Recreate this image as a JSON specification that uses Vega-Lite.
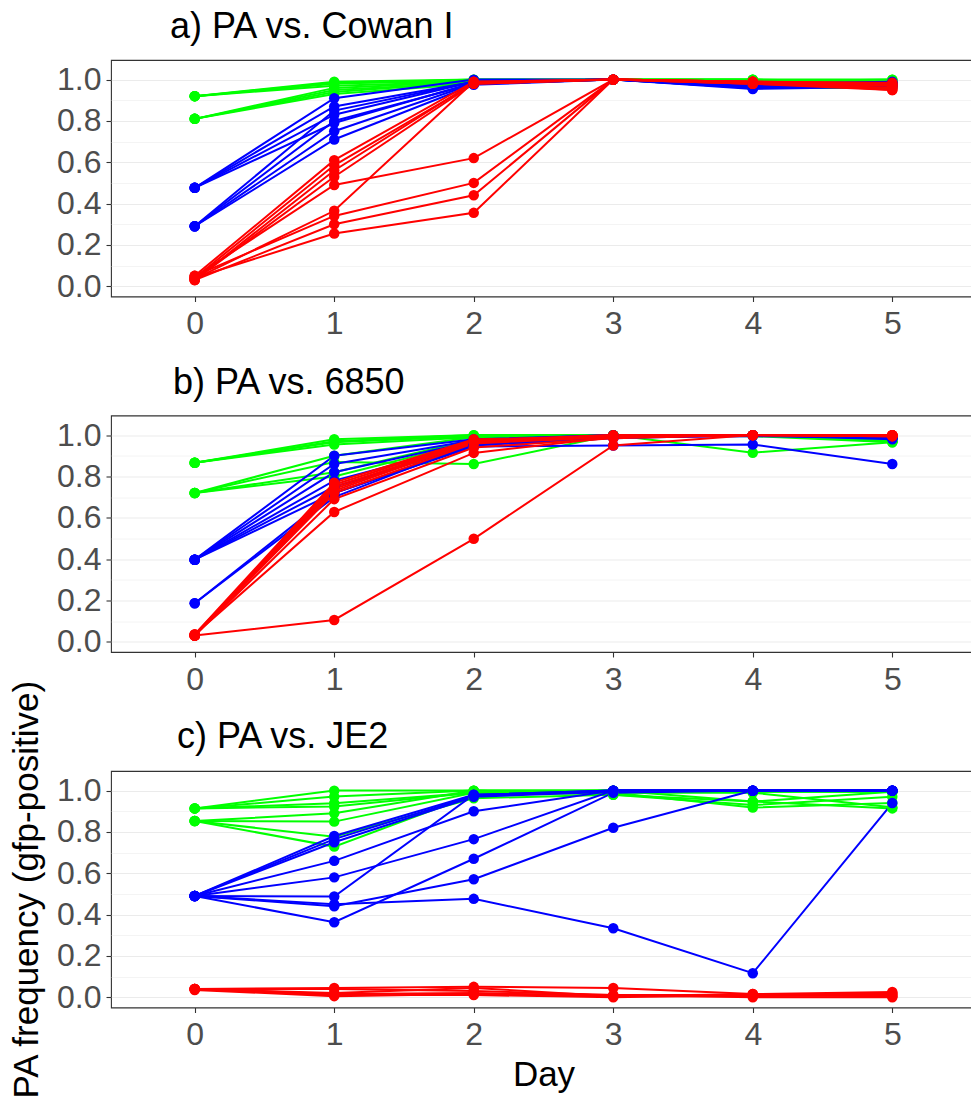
{
"$schema": "https://vega.github.io/schema/vega-lite/v6.json",
"background": "white",
"padding": {"left": 8, "top": 8, "right": 0, "bottom": 0},
"bounds": "flush",
"spacing": 118.5,
"config": {
  "font": "Liberation Sans",
  "view": {"stroke": "#333333", "strokeWidth": 1.1},
  "axis": {"labelFont": "Liberation Sans", "titleFont": "Liberation Sans", "labelFontSize": 32, "labelColor": "#4d4d4d", "tickColor": "#333333", "tickSize": 5, "tickWidth": 1.1, "domain": false, "gridColor": "#ebebeb", "titleFontSize": 35, "titleFontWeight": "normal", "titleColor": "#000000"},
  "title": {"font": "Liberation Sans", "fontSize": 36, "fontWeight": "normal", "color": "#000000", "anchor": "start", "frame": "group", "baseline": "alphabetic", "offset": 14, "dx": 59}
},
"datasets": {
"a": [
{"line":"G1","group":"g","day":0,"freq":0.92},{"line":"G1","group":"g","day":1,"freq":0.99},{"line":"G1","group":"g","day":2,"freq":1.0},{"line":"G1","group":"g","day":3,"freq":1.0},{"line":"G1","group":"g","day":4,"freq":1.0},{"line":"G1","group":"g","day":5,"freq":1.0},
{"line":"G2","group":"g","day":0,"freq":0.92},{"line":"G2","group":"g","day":1,"freq":0.98},{"line":"G2","group":"g","day":2,"freq":1.0},{"line":"G2","group":"g","day":3,"freq":1.0},{"line":"G2","group":"g","day":4,"freq":0.99},{"line":"G2","group":"g","day":5,"freq":0.99},
{"line":"G3","group":"g","day":0,"freq":0.92},{"line":"G3","group":"g","day":1,"freq":0.97},{"line":"G3","group":"g","day":2,"freq":0.99},{"line":"G3","group":"g","day":3,"freq":1.0},{"line":"G3","group":"g","day":4,"freq":1.0},{"line":"G3","group":"g","day":5,"freq":0.98},
{"line":"G4","group":"g","day":0,"freq":0.92},{"line":"G4","group":"g","day":1,"freq":0.985},{"line":"G4","group":"g","day":2,"freq":0.99},{"line":"G4","group":"g","day":3,"freq":1.0},{"line":"G4","group":"g","day":4,"freq":0.98},{"line":"G4","group":"g","day":5,"freq":0.97},
{"line":"G5","group":"g","day":0,"freq":0.81},{"line":"G5","group":"g","day":1,"freq":0.96},{"line":"G5","group":"g","day":2,"freq":0.99},{"line":"G5","group":"g","day":3,"freq":1.0},{"line":"G5","group":"g","day":4,"freq":0.99},{"line":"G5","group":"g","day":5,"freq":1.0},
{"line":"G6","group":"g","day":0,"freq":0.81},{"line":"G6","group":"g","day":1,"freq":0.95},{"line":"G6","group":"g","day":2,"freq":0.985},{"line":"G6","group":"g","day":3,"freq":1.0},{"line":"G6","group":"g","day":4,"freq":1.0},{"line":"G6","group":"g","day":5,"freq":0.99},
{"line":"G7","group":"g","day":0,"freq":0.81},{"line":"G7","group":"g","day":1,"freq":0.94},{"line":"G7","group":"g","day":2,"freq":0.99},{"line":"G7","group":"g","day":3,"freq":1.0},{"line":"G7","group":"g","day":4,"freq":0.97},{"line":"G7","group":"g","day":5,"freq":0.975},
{"line":"G8","group":"g","day":0,"freq":0.81},{"line":"G8","group":"g","day":1,"freq":0.93},{"line":"G8","group":"g","day":2,"freq":0.98},{"line":"G8","group":"g","day":3,"freq":1.0},{"line":"G8","group":"g","day":4,"freq":0.96},{"line":"G8","group":"g","day":5,"freq":0.96},
{"line":"B1","group":"b","day":0,"freq":0.476},{"line":"B1","group":"b","day":1,"freq":0.91},{"line":"B1","group":"b","day":2,"freq":1.0},{"line":"B1","group":"b","day":3,"freq":1.0},{"line":"B1","group":"b","day":4,"freq":0.98},{"line":"B1","group":"b","day":5,"freq":0.99},
{"line":"B2","group":"b","day":0,"freq":0.476},{"line":"B2","group":"b","day":1,"freq":0.87},{"line":"B2","group":"b","day":2,"freq":0.99},{"line":"B2","group":"b","day":3,"freq":1.0},{"line":"B2","group":"b","day":4,"freq":0.97},{"line":"B2","group":"b","day":5,"freq":0.98},
{"line":"B3","group":"b","day":0,"freq":0.476},{"line":"B3","group":"b","day":1,"freq":0.83},{"line":"B3","group":"b","day":2,"freq":0.99},{"line":"B3","group":"b","day":3,"freq":1.0},{"line":"B3","group":"b","day":4,"freq":0.96},{"line":"B3","group":"b","day":5,"freq":0.975},
{"line":"B4","group":"b","day":0,"freq":0.476},{"line":"B4","group":"b","day":1,"freq":0.79},{"line":"B4","group":"b","day":2,"freq":0.985},{"line":"B4","group":"b","day":3,"freq":1.0},{"line":"B4","group":"b","day":4,"freq":0.965},{"line":"B4","group":"b","day":5,"freq":0.98},
{"line":"B5","group":"b","day":0,"freq":0.29},{"line":"B5","group":"b","day":1,"freq":0.85},{"line":"B5","group":"b","day":2,"freq":0.99},{"line":"B5","group":"b","day":3,"freq":1.0},{"line":"B5","group":"b","day":4,"freq":0.975},{"line":"B5","group":"b","day":5,"freq":0.985},
{"line":"B6","group":"b","day":0,"freq":0.29},{"line":"B6","group":"b","day":1,"freq":0.8},{"line":"B6","group":"b","day":2,"freq":0.98},{"line":"B6","group":"b","day":3,"freq":1.0},{"line":"B6","group":"b","day":4,"freq":0.96},{"line":"B6","group":"b","day":5,"freq":0.97},
{"line":"B7","group":"b","day":0,"freq":0.29},{"line":"B7","group":"b","day":1,"freq":0.75},{"line":"B7","group":"b","day":2,"freq":0.98},{"line":"B7","group":"b","day":3,"freq":1.0},{"line":"B7","group":"b","day":4,"freq":0.97},{"line":"B7","group":"b","day":5,"freq":0.98},
{"line":"B8","group":"b","day":0,"freq":0.29},{"line":"B8","group":"b","day":1,"freq":0.71},{"line":"B8","group":"b","day":2,"freq":0.975},{"line":"B8","group":"b","day":3,"freq":1.0},{"line":"B8","group":"b","day":4,"freq":0.955},{"line":"B8","group":"b","day":5,"freq":0.965},
{"line":"R1","group":"r","day":0,"freq":0.05},{"line":"R1","group":"r","day":1,"freq":0.61},{"line":"R1","group":"r","day":2,"freq":0.99},{"line":"R1","group":"r","day":3,"freq":1.0},{"line":"R1","group":"r","day":4,"freq":0.99},{"line":"R1","group":"r","day":5,"freq":0.97},
{"line":"R2","group":"r","day":0,"freq":0.04},{"line":"R2","group":"r","day":1,"freq":0.585},{"line":"R2","group":"r","day":2,"freq":0.98},{"line":"R2","group":"r","day":3,"freq":1.0},{"line":"R2","group":"r","day":4,"freq":0.98},{"line":"R2","group":"r","day":5,"freq":0.96},
{"line":"R3","group":"r","day":0,"freq":0.03},{"line":"R3","group":"r","day":1,"freq":0.56},{"line":"R3","group":"r","day":2,"freq":0.985},{"line":"R3","group":"r","day":3,"freq":1.0},{"line":"R3","group":"r","day":4,"freq":0.99},{"line":"R3","group":"r","day":5,"freq":0.95},
{"line":"R4","group":"r","day":0,"freq":0.045},{"line":"R4","group":"r","day":1,"freq":0.49},{"line":"R4","group":"r","day":2,"freq":0.62},{"line":"R4","group":"r","day":3,"freq":1.0},{"line":"R4","group":"r","day":4,"freq":0.985},{"line":"R4","group":"r","day":5,"freq":0.96},
{"line":"R5","group":"r","day":0,"freq":0.035},{"line":"R5","group":"r","day":1,"freq":0.365},{"line":"R5","group":"r","day":2,"freq":0.99},{"line":"R5","group":"r","day":3,"freq":1.0},{"line":"R5","group":"r","day":4,"freq":0.98},{"line":"R5","group":"r","day":5,"freq":0.975},
{"line":"R6","group":"r","day":0,"freq":0.05},{"line":"R6","group":"r","day":1,"freq":0.34},{"line":"R6","group":"r","day":2,"freq":0.5},{"line":"R6","group":"r","day":3,"freq":1.0},{"line":"R6","group":"r","day":4,"freq":0.99},{"line":"R6","group":"r","day":5,"freq":0.985},
{"line":"R7","group":"r","day":0,"freq":0.03},{"line":"R7","group":"r","day":1,"freq":0.3},{"line":"R7","group":"r","day":2,"freq":0.44},{"line":"R7","group":"r","day":3,"freq":1.0},{"line":"R7","group":"r","day":4,"freq":0.98},{"line":"R7","group":"r","day":5,"freq":0.95},
{"line":"R8","group":"r","day":0,"freq":0.04},{"line":"R8","group":"r","day":1,"freq":0.255},{"line":"R8","group":"r","day":2,"freq":0.355},{"line":"R8","group":"r","day":3,"freq":1.0},{"line":"R8","group":"r","day":4,"freq":0.99},{"line":"R8","group":"r","day":5,"freq":0.97},
{"line":"R9","group":"r","day":0,"freq":0.03},{"line":"R9","group":"r","day":1,"freq":0.53},{"line":"R9","group":"r","day":2,"freq":0.98},{"line":"R9","group":"r","day":3,"freq":1.0},{"line":"R9","group":"r","day":4,"freq":0.99},{"line":"R9","group":"r","day":5,"freq":0.98}
],
"b": [
{"line":"G1","group":"g","day":0,"freq":0.866},{"line":"G1","group":"g","day":1,"freq":0.98},{"line":"G1","group":"g","day":2,"freq":1.0},{"line":"G1","group":"g","day":3,"freq":1.0},{"line":"G1","group":"g","day":4,"freq":1.0},{"line":"G1","group":"g","day":5,"freq":0.99},
{"line":"G2","group":"g","day":0,"freq":0.866},{"line":"G2","group":"g","day":1,"freq":0.97},{"line":"G2","group":"g","day":2,"freq":1.0},{"line":"G2","group":"g","day":3,"freq":1.0},{"line":"G2","group":"g","day":4,"freq":1.0},{"line":"G2","group":"g","day":5,"freq":0.985},
{"line":"G3","group":"g","day":0,"freq":0.866},{"line":"G3","group":"g","day":1,"freq":0.965},{"line":"G3","group":"g","day":2,"freq":0.995},{"line":"G3","group":"g","day":3,"freq":1.0},{"line":"G3","group":"g","day":4,"freq":1.0},{"line":"G3","group":"g","day":5,"freq":0.97},
{"line":"G4","group":"g","day":0,"freq":0.866},{"line":"G4","group":"g","day":1,"freq":0.955},{"line":"G4","group":"g","day":2,"freq":0.99},{"line":"G4","group":"g","day":3,"freq":1.0},{"line":"G4","group":"g","day":4,"freq":0.995},{"line":"G4","group":"g","day":5,"freq":0.965},
{"line":"G5","group":"g","day":0,"freq":0.72},{"line":"G5","group":"g","day":1,"freq":0.9},{"line":"G5","group":"g","day":2,"freq":0.99},{"line":"G5","group":"g","day":3,"freq":1.0},{"line":"G5","group":"g","day":4,"freq":1.0},{"line":"G5","group":"g","day":5,"freq":0.99},
{"line":"G6","group":"g","day":0,"freq":0.72},{"line":"G6","group":"g","day":1,"freq":0.87},{"line":"G6","group":"g","day":2,"freq":0.86},{"line":"G6","group":"g","day":3,"freq":1.0},{"line":"G6","group":"g","day":4,"freq":0.915},{"line":"G6","group":"g","day":5,"freq":0.965},
{"line":"G7","group":"g","day":0,"freq":0.72},{"line":"G7","group":"g","day":1,"freq":0.82},{"line":"G7","group":"g","day":2,"freq":0.98},{"line":"G7","group":"g","day":3,"freq":1.0},{"line":"G7","group":"g","day":4,"freq":1.0},{"line":"G7","group":"g","day":5,"freq":0.98},
{"line":"G8","group":"g","day":0,"freq":0.72},{"line":"G8","group":"g","day":1,"freq":0.8},{"line":"G8","group":"g","day":2,"freq":0.97},{"line":"G8","group":"g","day":3,"freq":0.995},{"line":"G8","group":"g","day":4,"freq":1.0},{"line":"G8","group":"g","day":5,"freq":0.97},
{"line":"B1","group":"b","day":0,"freq":0.397},{"line":"B1","group":"b","day":1,"freq":0.9},{"line":"B1","group":"b","day":2,"freq":0.98},{"line":"B1","group":"b","day":3,"freq":1.0},{"line":"B1","group":"b","day":4,"freq":1.0},{"line":"B1","group":"b","day":5,"freq":0.99},
{"line":"B2","group":"b","day":0,"freq":0.397},{"line":"B2","group":"b","day":1,"freq":0.86},{"line":"B2","group":"b","day":2,"freq":0.975},{"line":"B2","group":"b","day":3,"freq":1.0},{"line":"B2","group":"b","day":4,"freq":1.0},{"line":"B2","group":"b","day":5,"freq":0.99},
{"line":"B3","group":"b","day":0,"freq":0.397},{"line":"B3","group":"b","day":1,"freq":0.82},{"line":"B3","group":"b","day":2,"freq":0.97},{"line":"B3","group":"b","day":3,"freq":0.99},{"line":"B3","group":"b","day":4,"freq":1.0},{"line":"B3","group":"b","day":5,"freq":0.985},
{"line":"B4","group":"b","day":0,"freq":0.397},{"line":"B4","group":"b","day":1,"freq":0.78},{"line":"B4","group":"b","day":2,"freq":0.96},{"line":"B4","group":"b","day":3,"freq":0.99},{"line":"B4","group":"b","day":4,"freq":1.0},{"line":"B4","group":"b","day":5,"freq":0.98},
{"line":"B5","group":"b","day":0,"freq":0.397},{"line":"B5","group":"b","day":1,"freq":0.75},{"line":"B5","group":"b","day":2,"freq":0.955},{"line":"B5","group":"b","day":3,"freq":0.99},{"line":"B5","group":"b","day":4,"freq":0.995},{"line":"B5","group":"b","day":5,"freq":0.99},
{"line":"B6","group":"b","day":0,"freq":0.397},{"line":"B6","group":"b","day":1,"freq":0.72},{"line":"B6","group":"b","day":2,"freq":0.95},{"line":"B6","group":"b","day":3,"freq":0.985},{"line":"B6","group":"b","day":4,"freq":1.0},{"line":"B6","group":"b","day":5,"freq":0.985},
{"line":"B7","group":"b","day":0,"freq":0.186},{"line":"B7","group":"b","day":1,"freq":0.72},{"line":"B7","group":"b","day":2,"freq":0.945},{"line":"B7","group":"b","day":3,"freq":0.95},{"line":"B7","group":"b","day":4,"freq":0.955},{"line":"B7","group":"b","day":5,"freq":0.86},
{"line":"B8","group":"b","day":0,"freq":0.186},{"line":"B8","group":"b","day":1,"freq":0.7},{"line":"B8","group":"b","day":2,"freq":0.96},{"line":"B8","group":"b","day":3,"freq":0.99},{"line":"B8","group":"b","day":4,"freq":1.0},{"line":"B8","group":"b","day":5,"freq":0.99},
{"line":"R1","group":"r","day":0,"freq":0.03},{"line":"R1","group":"r","day":1,"freq":0.105},{"line":"R1","group":"r","day":2,"freq":0.498},{"line":"R1","group":"r","day":3,"freq":0.95},{"line":"R1","group":"r","day":4,"freq":1.0},{"line":"R1","group":"r","day":5,"freq":1.0},
{"line":"R2","group":"r","day":0,"freq":0.035},{"line":"R2","group":"r","day":1,"freq":0.628},{"line":"R2","group":"r","day":2,"freq":0.914},{"line":"R2","group":"r","day":3,"freq":0.99},{"line":"R2","group":"r","day":4,"freq":1.0},{"line":"R2","group":"r","day":5,"freq":0.995},
{"line":"R3","group":"r","day":0,"freq":0.03},{"line":"R3","group":"r","day":1,"freq":0.69},{"line":"R3","group":"r","day":2,"freq":0.94},{"line":"R3","group":"r","day":3,"freq":0.985},{"line":"R3","group":"r","day":4,"freq":1.0},{"line":"R3","group":"r","day":5,"freq":1.0},
{"line":"R4","group":"r","day":0,"freq":0.03},{"line":"R4","group":"r","day":1,"freq":0.72},{"line":"R4","group":"r","day":2,"freq":0.96},{"line":"R4","group":"r","day":3,"freq":0.99},{"line":"R4","group":"r","day":4,"freq":1.0},{"line":"R4","group":"r","day":5,"freq":1.0},
{"line":"R5","group":"r","day":0,"freq":0.035},{"line":"R5","group":"r","day":1,"freq":0.74},{"line":"R5","group":"r","day":2,"freq":0.965},{"line":"R5","group":"r","day":3,"freq":1.0},{"line":"R5","group":"r","day":4,"freq":1.0},{"line":"R5","group":"r","day":5,"freq":0.995},
{"line":"R6","group":"r","day":0,"freq":0.03},{"line":"R6","group":"r","day":1,"freq":0.75},{"line":"R6","group":"r","day":2,"freq":0.97},{"line":"R6","group":"r","day":3,"freq":0.995},{"line":"R6","group":"r","day":4,"freq":1.0},{"line":"R6","group":"r","day":5,"freq":1.0},
{"line":"R7","group":"r","day":0,"freq":0.03},{"line":"R7","group":"r","day":1,"freq":0.76},{"line":"R7","group":"r","day":2,"freq":0.975},{"line":"R7","group":"r","day":3,"freq":1.0},{"line":"R7","group":"r","day":4,"freq":1.0},{"line":"R7","group":"r","day":5,"freq":1.0},
{"line":"R8","group":"r","day":0,"freq":0.035},{"line":"R8","group":"r","day":1,"freq":0.77},{"line":"R8","group":"r","day":2,"freq":0.98},{"line":"R8","group":"r","day":3,"freq":0.99},{"line":"R8","group":"r","day":4,"freq":1.0},{"line":"R8","group":"r","day":5,"freq":0.995},
{"line":"R9","group":"r","day":0,"freq":0.03},{"line":"R9","group":"r","day":1,"freq":0.73},{"line":"R9","group":"r","day":2,"freq":0.97},{"line":"R9","group":"r","day":3,"freq":0.995},{"line":"R9","group":"r","day":4,"freq":1.0},{"line":"R9","group":"r","day":5,"freq":1.0}
],
"c": [
{"line":"G1","group":"g","day":0,"freq":0.914},{"line":"G1","group":"g","day":1,"freq":1.0},{"line":"G1","group":"g","day":2,"freq":1.0},{"line":"G1","group":"g","day":3,"freq":1.0},{"line":"G1","group":"g","day":4,"freq":1.0},{"line":"G1","group":"g","day":5,"freq":1.0},
{"line":"G2","group":"g","day":0,"freq":0.914},{"line":"G2","group":"g","day":1,"freq":0.971},{"line":"G2","group":"g","day":2,"freq":1.0},{"line":"G2","group":"g","day":3,"freq":1.0},{"line":"G2","group":"g","day":4,"freq":0.995},{"line":"G2","group":"g","day":5,"freq":0.995},
{"line":"G3","group":"g","day":0,"freq":0.914},{"line":"G3","group":"g","day":1,"freq":0.939},{"line":"G3","group":"g","day":2,"freq":0.99},{"line":"G3","group":"g","day":3,"freq":1.0},{"line":"G3","group":"g","day":4,"freq":0.947},{"line":"G3","group":"g","day":5,"freq":0.995},
{"line":"G4","group":"g","day":0,"freq":0.914},{"line":"G4","group":"g","day":1,"freq":0.923},{"line":"G4","group":"g","day":2,"freq":0.99},{"line":"G4","group":"g","day":3,"freq":0.99},{"line":"G4","group":"g","day":4,"freq":0.918},{"line":"G4","group":"g","day":5,"freq":0.94},
{"line":"G5","group":"g","day":0,"freq":0.853},{"line":"G5","group":"g","day":1,"freq":0.89},{"line":"G5","group":"g","day":2,"freq":1.0},{"line":"G5","group":"g","day":3,"freq":0.98},{"line":"G5","group":"g","day":4,"freq":0.947},{"line":"G5","group":"g","day":5,"freq":0.914},
{"line":"G6","group":"g","day":0,"freq":0.853},{"line":"G6","group":"g","day":1,"freq":0.85},{"line":"G6","group":"g","day":2,"freq":0.99},{"line":"G6","group":"g","day":3,"freq":1.0},{"line":"G6","group":"g","day":4,"freq":0.995},{"line":"G6","group":"g","day":5,"freq":0.994},
{"line":"G7","group":"g","day":0,"freq":0.853},{"line":"G7","group":"g","day":1,"freq":0.777},{"line":"G7","group":"g","day":2,"freq":0.963},{"line":"G7","group":"g","day":3,"freq":0.98},{"line":"G7","group":"g","day":4,"freq":0.93},{"line":"G7","group":"g","day":5,"freq":0.97},
{"line":"G8","group":"g","day":0,"freq":0.853},{"line":"G8","group":"g","day":1,"freq":0.729},{"line":"G8","group":"g","day":2,"freq":0.98},{"line":"G8","group":"g","day":3,"freq":0.99},{"line":"G8","group":"g","day":4,"freq":0.99},{"line":"G8","group":"g","day":5,"freq":0.92},
{"line":"B1","group":"b","day":0,"freq":0.49},{"line":"B1","group":"b","day":1,"freq":0.78},{"line":"B1","group":"b","day":2,"freq":0.98},{"line":"B1","group":"b","day":3,"freq":1.0},{"line":"B1","group":"b","day":4,"freq":1.0},{"line":"B1","group":"b","day":5,"freq":1.0},
{"line":"B2","group":"b","day":0,"freq":0.49},{"line":"B2","group":"b","day":1,"freq":0.765},{"line":"B2","group":"b","day":2,"freq":0.975},{"line":"B2","group":"b","day":3,"freq":1.0},{"line":"B2","group":"b","day":4,"freq":1.0},{"line":"B2","group":"b","day":5,"freq":1.0},
{"line":"B3","group":"b","day":0,"freq":0.49},{"line":"B3","group":"b","day":1,"freq":0.75},{"line":"B3","group":"b","day":2,"freq":0.97},{"line":"B3","group":"b","day":3,"freq":0.995},{"line":"B3","group":"b","day":4,"freq":1.0},{"line":"B3","group":"b","day":5,"freq":1.0},
{"line":"B4","group":"b","day":0,"freq":0.49},{"line":"B4","group":"b","day":1,"freq":0.66},{"line":"B4","group":"b","day":2,"freq":0.9},{"line":"B4","group":"b","day":3,"freq":1.0},{"line":"B4","group":"b","day":4,"freq":1.0},{"line":"B4","group":"b","day":5,"freq":1.0},
{"line":"B5","group":"b","day":0,"freq":0.49},{"line":"B5","group":"b","day":1,"freq":0.58},{"line":"B5","group":"b","day":2,"freq":0.765},{"line":"B5","group":"b","day":3,"freq":1.0},{"line":"B5","group":"b","day":4,"freq":1.0},{"line":"B5","group":"b","day":5,"freq":1.0},
{"line":"B6","group":"b","day":0,"freq":0.49},{"line":"B6","group":"b","day":1,"freq":0.487},{"line":"B6","group":"b","day":2,"freq":0.98},{"line":"B6","group":"b","day":3,"freq":1.0},{"line":"B6","group":"b","day":4,"freq":1.0},{"line":"B6","group":"b","day":5,"freq":1.0},
{"line":"B7","group":"b","day":0,"freq":0.49},{"line":"B7","group":"b","day":1,"freq":0.45},{"line":"B7","group":"b","day":2,"freq":0.476},{"line":"B7","group":"b","day":3,"freq":0.334},{"line":"B7","group":"b","day":4,"freq":0.116},{"line":"B7","group":"b","day":5,"freq":0.94},
{"line":"B8","group":"b","day":0,"freq":0.49},{"line":"B8","group":"b","day":1,"freq":0.363},{"line":"B8","group":"b","day":2,"freq":0.67},{"line":"B8","group":"b","day":3,"freq":0.99},{"line":"B8","group":"b","day":4,"freq":1.0},{"line":"B8","group":"b","day":5,"freq":1.0},
{"line":"B9","group":"b","day":0,"freq":0.49},{"line":"B9","group":"b","day":1,"freq":0.44},{"line":"B9","group":"b","day":2,"freq":0.571},{"line":"B9","group":"b","day":3,"freq":0.82},{"line":"B9","group":"b","day":4,"freq":1.0},{"line":"B9","group":"b","day":5,"freq":1.0},
{"line":"R1","group":"r","day":0,"freq":0.04},{"line":"R1","group":"r","day":1,"freq":0.045},{"line":"R1","group":"r","day":2,"freq":0.05},{"line":"R1","group":"r","day":3,"freq":0.045},{"line":"R1","group":"r","day":4,"freq":0.015},{"line":"R1","group":"r","day":5,"freq":0.025},
{"line":"R2","group":"r","day":0,"freq":0.04},{"line":"R2","group":"r","day":1,"freq":0.04},{"line":"R2","group":"r","day":2,"freq":0.03},{"line":"R2","group":"r","day":3,"freq":0.01},{"line":"R2","group":"r","day":4,"freq":0.01},{"line":"R2","group":"r","day":5,"freq":0.02},
{"line":"R3","group":"r","day":0,"freq":0.04},{"line":"R3","group":"r","day":1,"freq":0.015},{"line":"R3","group":"r","day":2,"freq":0.02},{"line":"R3","group":"r","day":3,"freq":0.005},{"line":"R3","group":"r","day":4,"freq":0.005},{"line":"R3","group":"r","day":5,"freq":0.01},
{"line":"R4","group":"r","day":0,"freq":0.04},{"line":"R4","group":"r","day":1,"freq":0.01},{"line":"R4","group":"r","day":2,"freq":0.01},{"line":"R4","group":"r","day":3,"freq":0.0},{"line":"R4","group":"r","day":4,"freq":0.01},{"line":"R4","group":"r","day":5,"freq":0.005},
{"line":"R5","group":"r","day":0,"freq":0.035},{"line":"R5","group":"r","day":1,"freq":0.005},{"line":"R5","group":"r","day":2,"freq":0.015},{"line":"R5","group":"r","day":3,"freq":0.01},{"line":"R5","group":"r","day":4,"freq":0.0},{"line":"R5","group":"r","day":5,"freq":0.0},
{"line":"R6","group":"r","day":0,"freq":0.04},{"line":"R6","group":"r","day":1,"freq":0.02},{"line":"R6","group":"r","day":2,"freq":0.045},{"line":"R6","group":"r","day":3,"freq":0.005},{"line":"R6","group":"r","day":4,"freq":0.015},{"line":"R6","group":"r","day":5,"freq":0.015}
]
},
"vconcat": [
{
  "width": 865, "height": 236.5,
  "title": {"text": "a) PA vs. Cowan I", "dx": 59},
  "data": {"name": "a"},
  "encoding": {
    "x": {"field": "day", "type": "ordinal", "sort": "ascending", "scale": {"type": "point", "padding": 0.6}, "axis": {"labelAngle": 0, "labelPadding": 7, "gridWidth": 1.1, "title": null}},
    "y": {"field": "freq", "type": "quantitative", "scale": {"domain": [-0.05, 1.095], "nice": false, "zero": false}, "axis": {"values": [0, 0.1, 0.2, 0.3, 0.4, 0.5, 0.6, 0.7, 0.8, 0.9, 1.0], "labelExpr": "round(datum.value*10) % 2 === 0 ? format(datum.value, '.1f') : ''", "gridWidth": {"condition": {"test": "round(datum.value*10) % 2 === 0", "value": 1.1}, "value": 0.55}, "tickOpacity": {"condition": {"test": "round(datum.value*10) % 2 === 0", "value": 1}, "value": 0}, "labelPadding": 5, "title": null}},
    "color": {"field": "group", "type": "nominal", "scale": {"domain": ["g", "b", "r"], "range": ["#00ff00", "#0000ff", "#ff0000"]}, "legend": null},
    "detail": {"field": "line", "type": "nominal"}
  },
  "layer": [
    {"mark": {"type": "line", "strokeWidth": 2}},
    {"mark": {"type": "circle", "size": 110, "opacity": 1}}
  ]
},
{
  "width": 865, "height": 236.5,
  "title": {"text": "b) PA vs. 6850", "dx": 62},
  "data": {"name": "b"},
  "encoding": {
    "x": {"field": "day", "type": "ordinal", "sort": "ascending", "scale": {"type": "point", "padding": 0.6}, "axis": {"labelAngle": 0, "labelPadding": 7, "gridWidth": 1.1, "title": null}},
    "y": {"field": "freq", "type": "quantitative", "scale": {"domain": [-0.05, 1.095], "nice": false, "zero": false}, "axis": {"values": [0, 0.1, 0.2, 0.3, 0.4, 0.5, 0.6, 0.7, 0.8, 0.9, 1.0], "labelExpr": "round(datum.value*10) % 2 === 0 ? format(datum.value, '.1f') : ''", "gridWidth": {"condition": {"test": "round(datum.value*10) % 2 === 0", "value": 1.1}, "value": 0.55}, "tickOpacity": {"condition": {"test": "round(datum.value*10) % 2 === 0", "value": 1}, "value": 0}, "labelPadding": 5, "title": null}},
    "color": {"field": "group", "type": "nominal", "scale": {"domain": ["g", "b", "r"], "range": ["#00ff00", "#0000ff", "#ff0000"]}, "legend": null},
    "detail": {"field": "line", "type": "nominal"}
  },
  "layer": [
    {"mark": {"type": "line", "strokeWidth": 2}},
    {"mark": {"type": "circle", "size": 110, "opacity": 1}}
  ]
},
{
  "width": 865, "height": 236.5,
  "title": {"text": "c) PA vs. JE2", "dx": 66, "offset": -77},
  "data": {"name": "c"},
  "encoding": {
    "x": {"field": "day", "type": "ordinal", "sort": "ascending", "scale": {"type": "point", "padding": 0.6}, "axis": {"labelAngle": 0, "labelPadding": 7, "gridWidth": 1.1, "title": "Day", "titlePadding": 7}},
    "y": {"field": "freq", "type": "quantitative", "scale": {"domain": [-0.05, 1.095], "nice": false, "zero": false}, "axis": {"values": [0, 0.1, 0.2, 0.3, 0.4, 0.5, 0.6, 0.7, 0.8, 0.9, 1.0], "labelExpr": "round(datum.value*10) % 2 === 0 ? format(datum.value, '.1f') : ''", "gridWidth": {"condition": {"test": "round(datum.value*10) % 2 === 0", "value": 1.1}, "value": 0.55}, "tickOpacity": {"condition": {"test": "round(datum.value*10) % 2 === 0", "value": 1}, "value": 0}, "labelPadding": 5, "title": "PA frequency (gfp-positive)", "titlePadding": 12}},
    "color": {"field": "group", "type": "nominal", "scale": {"domain": ["g", "b", "r"], "range": ["#00ff00", "#0000ff", "#ff0000"]}, "legend": null},
    "detail": {"field": "line", "type": "nominal"}
  },
  "layer": [
    {"mark": {"type": "line", "strokeWidth": 2}},
    {"mark": {"type": "circle", "size": 110, "opacity": 1}}
  ]
}
]
}
